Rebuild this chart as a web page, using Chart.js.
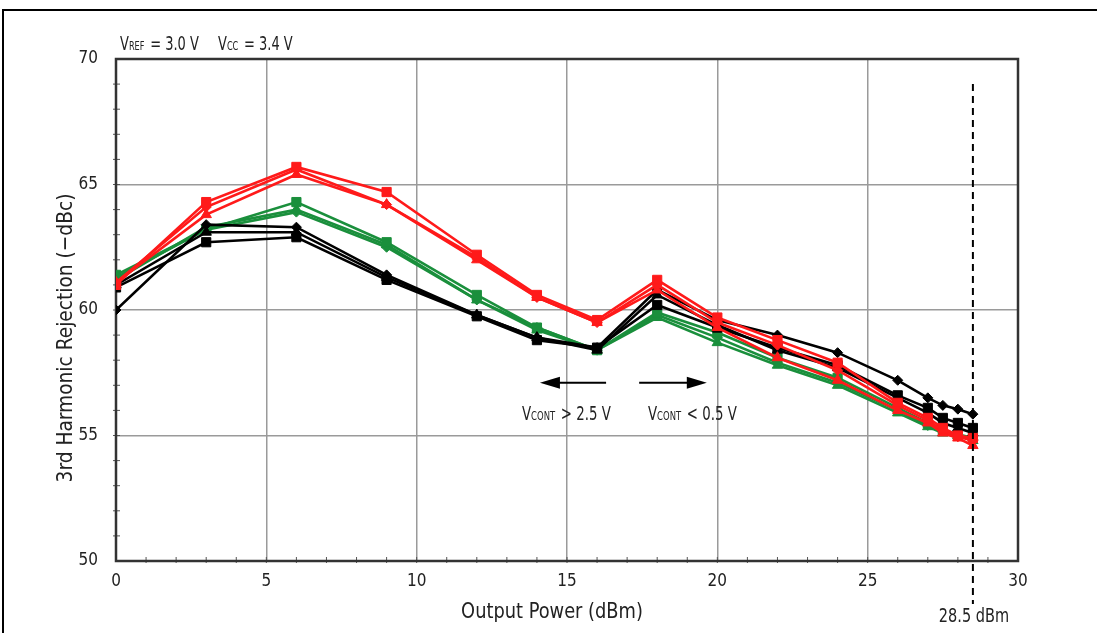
<!DOCTYPE html>
<html>
<head>
<meta charset="utf-8">
<script src="https://cdn.jsdelivr.net/npm/chart.js@4/dist/chart.umd.min.js"></script>
<style>
  body { margin: 0; background: #fff; }
  canvas { display: block; }
</style>
</head>
<body>
<canvas id="chart" width="1097" height="633"></canvas>
<script>
// output power points (dBm)
const powerLevels = [0, 3, 6, 9, 12, 14, 16, 18, 20, 22, 24, 26, 27, 27.5, 28, 28.5];

// 3rd harmonic rejection (-dBc)
const redSquare   = [61.0, 64.3, 65.7, 64.7, 62.2, 60.6, 59.6, 61.2, 59.7, 58.8, 57.9, 56.3, 55.7, 55.3, 55.0, 54.9];
const redDiamond  = [61.1, 64.1, 65.6, 64.2, 62.1, 60.5, 59.5, 61.0, 59.5, 58.6, 57.6, 56.2, 55.6, 55.2, 54.95, 54.8];
const redTriangle = [61.1, 63.8, 65.4, 64.2, 62.0, 60.5, 59.5, 60.8, 59.3, 58.1, 57.2, 56.0, 55.5, 55.1, 54.9, 54.6];

const greenSquare   = [61.4, 63.2, 64.3, 62.7, 60.6, 59.3, 58.4, 59.9, 59.1, 58.1, 57.3, 56.1, 55.5, 55.2, 55.05, 54.9];
const greenDiamond  = [61.3, 63.2, 63.9, 62.5, 60.4, 59.3, 58.4, 59.8, 58.9, 57.9, 57.1, 56.0, 55.4, 55.2, 55.0, 54.85];
const greenTriangle = [61.2, 63.3, 64.0, 62.6, 60.4, 59.2, 58.4, 59.7, 58.7, 57.8, 57.0, 55.9, 55.35, 55.1, 55.0, 54.8];

const blackDiamond  = [60.0, 63.4, 63.3, 61.4, 59.8, 58.9, 58.5, 60.8, 59.6, 59.0, 58.3, 57.2, 56.5, 56.2, 56.05, 55.85];
const blackSquare   = [60.9, 62.7, 62.9, 61.2, 59.75, 58.8, 58.5, 60.2, 59.3, 58.5, 57.8, 56.6, 56.1, 55.7, 55.5, 55.3];
const blackTriangle = [61.0, 63.1, 63.1, 61.3, 59.8, 58.9, 58.4, 60.6, 59.4, 58.4, 57.7, 56.5, 55.9, 55.5, 55.3, 55.1];

const yTicks = [50, 55, 60, 65, 70];
const xTicks = [0, 5, 10, 15, 20, 25, 30];
const limitPower = 28.5;

const RED = '#ff1a1a';
const GREEN = '#1a8f3c';
const BLACK = '#000000';
const FONT = '"Liberation Sans Narrow", "DejaVu Sans Condensed", "Liberation Sans", sans-serif';

function makeSeries(values, color, marker, order) {
    let pts = [];
    for (let i = 0; i < powerLevels.length; i++) {
        pts.push({ x: powerLevels[i], y: values[i] });
    }
    let r = 6.5;
    if (marker === 'rectRot') r = 5;
    if (marker === 'triangle') r = 6;
    return {
        data: pts,
        showLine: true,
        borderColor: color,
        backgroundColor: color,
        borderWidth: 2.6,
        pointStyle: marker,
        pointRadius: r,
        pointBorderWidth: 1,
        order: order
    };
}

// draw "V" + small subscript followed by the rest, squeezed horizontally
function drawSubText(ctx, x, y, main, sub, rest, size, squeeze) {
    ctx.save();
    ctx.translate(x, y);
    ctx.scale(squeeze, 1);
    let cx = 0;
    ctx.textAlign = 'left';
    ctx.font = size + 'px ' + FONT;
    ctx.fillText(main, cx, 0);
    cx += ctx.measureText(main).width;
    ctx.font = Math.round(size * 0.62) + 'px ' + FONT;
    ctx.fillText(sub, cx, 0);
    cx += ctx.measureText(sub).width + 2;
    ctx.font = size + 'px ' + FONT;
    ctx.fillText(rest, cx, 0);
    ctx.restore();
}

function arrow(ctx, x1, x2, y) {
    // shaft from x1 to tip at x2
    let dir = x2 > x1 ? 1 : -1;
    ctx.beginPath();
    ctx.moveTo(x1, y);
    ctx.lineTo(x2 - dir * 14, y);
    ctx.lineWidth = 2;
    ctx.strokeStyle = '#000';
    ctx.stroke();
    ctx.beginPath();
    ctx.moveTo(x2, y);
    ctx.lineTo(x2 - dir * 20, y - 6);
    ctx.lineTo(x2 - dir * 20, y + 6);
    ctx.closePath();
    ctx.fillStyle = '#000';
    ctx.fill();
}

const decorPlugin = {
    id: 'decor',
    beforeDatasetsDraw(chart) {
        let ctx = chart.ctx;
        let a = chart.chartArea;
        let xs = chart.scales.x, ys = chart.scales.y;
        ctx.save();
        // minor ticks, inside the plot
        ctx.strokeStyle = '#555';
        ctx.lineWidth = 1;
        for (let v = 51; v < 70; v++) {
            let py = ys.getPixelForValue(v);
            ctx.beginPath();
            ctx.moveTo(a.left - 3, py);
            ctx.lineTo(a.left + 4, py);
            ctx.stroke();
        }
        for (let v = 1; v < 30; v++) {
            let px = xs.getPixelForValue(v);
            ctx.beginPath();
            ctx.moveTo(px, a.bottom + 2);
            ctx.lineTo(px, a.bottom - 4);
            ctx.stroke();
        }
        // plot frame
        ctx.strokeStyle = '#333';
        ctx.lineWidth = 2.5;
        ctx.strokeRect(a.left, a.top, a.right - a.left, a.bottom - a.top);
        ctx.restore();
    },
    afterDatasetsDraw(chart) {
        let ctx = chart.ctx;
        let a = chart.chartArea;
        let xs = chart.scales.x, ys = chart.scales.y;
        ctx.save();

        // outer figure border (top and left)
        ctx.strokeStyle = '#000';
        ctx.lineWidth = 2;
        ctx.beginPath();
        ctx.moveTo(3, 633);
        ctx.lineTo(3, 10);
        ctx.lineTo(1097, 10);
        ctx.stroke();

        // dashed limit line
        let lx = xs.getPixelForValue(limitPower);
        ctx.setLineDash([7, 5]);
        ctx.lineWidth = 2;
        ctx.beginPath();
        ctx.moveTo(lx, 84);
        ctx.lineTo(lx, 604);
        ctx.stroke();
        ctx.setLineDash([]);

        ctx.fillStyle = '#222';
        ctx.textBaseline = 'alphabetic';

        // conditions at top left
        drawSubText(ctx, 120, 50, 'V', 'REF', ' = 3.0 V', 19, 0.76);
        drawSubText(ctx, 218, 50, 'V', 'CC', ' = 3.4 V', 19, 0.76);

        // control voltage arrows
        let ay = ys.getPixelForValue(57.1);
        arrow(ctx, xs.getPixelForValue(16.3), xs.getPixelForValue(14.1), ay);
        arrow(ctx, xs.getPixelForValue(17.4), xs.getPixelForValue(19.65), ay);
        ctx.fillStyle = '#222';
        drawSubText(ctx, 522, 420, 'V', 'CONT', ' > 2.5 V', 19, 0.78);
        drawSubText(ctx, 648, 420, 'V', 'CONT', ' < 0.5 V', 19, 0.78);

        // limit label
        ctx.save();
        ctx.translate(974, 622);
        ctx.scale(0.85, 1);
        ctx.textAlign = 'center';
        ctx.font = '19px ' + FONT;
        ctx.fillText('28.5 dBm', 0, 0);
        ctx.restore();

        // axis titles
        ctx.save();
        ctx.translate(552, 618);
        ctx.scale(0.9, 1);
        ctx.textAlign = 'center';
        ctx.font = '22px ' + FONT;
        ctx.fillText('Output Power (dBm)', 0, 0);
        ctx.restore();

        ctx.translate(66, 338);
        ctx.rotate(-Math.PI / 2);
        ctx.scale(0.94, 1);
        ctx.textAlign = 'center';
        ctx.textBaseline = 'middle';
        ctx.font = '22px ' + FONT;
        ctx.fillText('3rd Harmonic Rejection (\u2212dBc)', 0, 0);
        ctx.restore();
    }
};

let ctx = document.getElementById('chart').getContext('2d');

new Chart(ctx, {
    type: 'scatter',
    data: {
        datasets: [
            makeSeries(redSquare, RED, 'rect', 1),
            makeSeries(redDiamond, RED, 'rectRot', 2),
            makeSeries(redTriangle, RED, 'triangle', 3),
            makeSeries(blackDiamond, BLACK, 'rectRot', 4),
            makeSeries(blackSquare, BLACK, 'rect', 5),
            makeSeries(blackTriangle, BLACK, 'triangle', 6),
            makeSeries(greenSquare, GREEN, 'rect', 7),
            makeSeries(greenDiamond, GREEN, 'rectRot', 8),
            makeSeries(greenTriangle, GREEN, 'triangle', 9)
        ]
    },
    options: {
        responsive: false,
        animation: false,
        layout: { padding: { top: 59, right: 79, left: 0, bottom: 0 } },
        plugins: {
            legend: { display: false },
            tooltip: { enabled: false }
        },
        scales: {
            x: {
                type: 'linear',
                min: 0,
                max: 30,
                afterBuildTicks: function (scale) {
                    scale.ticks = xTicks.map(function (v) { return { value: v }; });
                },
                afterFit: function (scale) { scale.height = 72; },
                border: { display: false },
                grid: {
                    drawTicks: false,
                    lineWidth: 1.5,
                    color: function (c) {
                        let v = c.tick ? c.tick.value : 0;
                        return (v > 0 && v < 30) ? '#9a9a9a' : 'transparent';
                    }
                },
                ticks: {
                    padding: 10,
                    color: '#222',
                    font: { family: FONT, size: 17 }
                }
            },
            y: {
                min: 50,
                max: 70,
                afterBuildTicks: function (scale) {
                    scale.ticks = yTicks.map(function (v) { return { value: v }; });
                },
                afterFit: function (scale) { scale.width = 116; },
                border: { display: false },
                grid: {
                    drawTicks: false,
                    lineWidth: 1.5,
                    color: function (c) {
                        let v = c.tick ? c.tick.value : 50;
                        return (v > 50 && v < 70) ? '#9a9a9a' : 'transparent';
                    }
                },
                ticks: {
                    padding: 18,
                    color: '#222',
                    font: { family: FONT, size: 17 }
                }
            }
        }
    },
    plugins: [decorPlugin]
});
</script>
</body>
</html>
